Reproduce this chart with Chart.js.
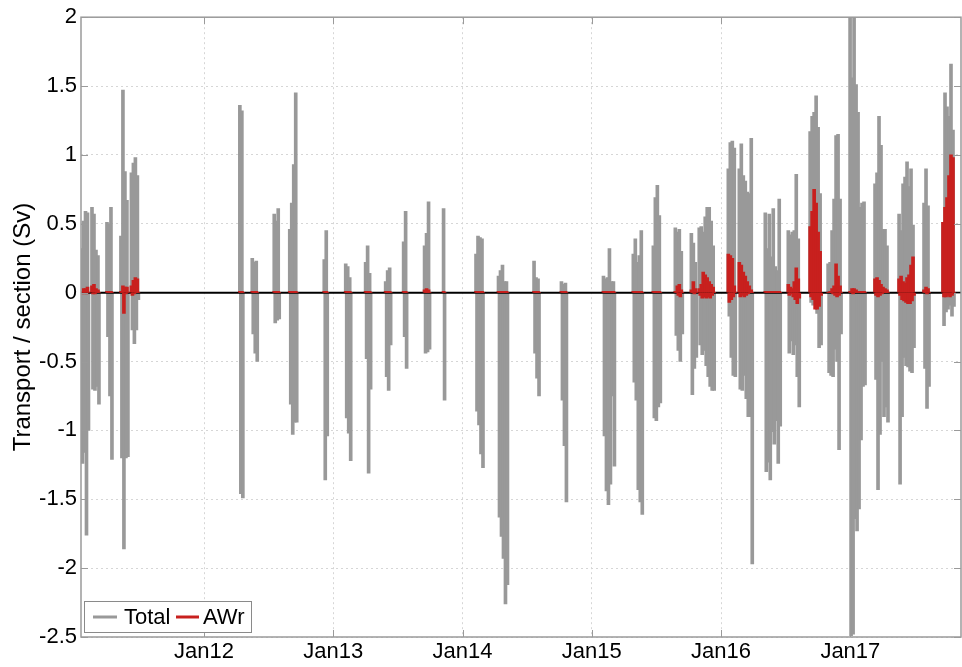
<!DOCTYPE html>
<html>
<head>
<meta charset="utf-8">
<script src="https://cdn.jsdelivr.net/npm/chart.js@4/dist/chart.umd.min.js"></script>
<style>
  html, body { margin: 0; padding: 0; background: #fff; }
  canvas { display: block; }
</style>
</head>
<body>
<canvas id="transportChart" width="962" height="667"></canvas>
<script>
// first section of each glider deployment, decimal years
var deployStarts = [2011.052, 2011.133, 2011.249, 2011.357, 2011.438,
  2012.277, 2012.373, 2012.543, 2012.663, 2012.930,
  2013.096, 2013.250, 2013.405, 2013.544, 2013.706, 2013.853,
  2014.104, 2014.278, 2014.553, 2014.765,
  2015.090, 2015.321, 2015.476, 2015.646, 2015.770, 2015.831,
  2016.056, 2016.141, 2016.342, 2016.520, 2016.689, 2016.828,
  2016.998, 2017.191, 2017.377, 2017.570, 2017.717];
var sectionStep = 0.0077; // ~2.8 days between sections

// transport per section, Sv (sections alternate direction)
var totalValues = [
  [0.32,-1.24, 0.52,-1.16, 0.59,-1.76, 0.58,-1.0],
  [0.62,-0.70, 0.57,-0.71, 0.31,-0.68, 0.27,-0.81],
  [0.51,-0.32, 0.50,-0.75, 0.62,-1.21],
  [0.41,-1.20, 1.47,-1.86, 0.88,-1.20, 0.67,-1.19],
  [0.87,-0.27, 0.94,-0.37, 0.98,-0.27, 0.85,-0.05],
  [1.36,-1.46, 1.32,-1.49],
  [0.25,-0.30, 0.22,-0.44, 0.23,-0.50],
  [0.57,-0.22, 0.52,-0.20, 0.61,-0.19],
  [0.46,-0.81, 0.65,-1.03, 0.93,-0.94, 1.45,-0.94],
  [0.24,-1.36, 0.45,-1.04],
  [0.21,-0.91, 0.19,-1.02, 0.11,-1.22],
  [0.22,-0.48, 0.34,-1.31, 0.14,-0.70],
  [0.08,-0.61, 0.16,-0.71, 0.18,-0.38],
  [0.37,-0.32, 0.59,-0.55],
  [0.34,-0.44, 0.43,-0.43, 0.66,-0.41],
  [0.61,-0.78],
  [0.28,-0.86, 0.41,-0.96, 0.40,-1.17, 0.39,-1.27],
  [0.12,-1.63, 0.16,-1.77, 0.20,-1.93, 0.08,-2.26, 0.08,-2.12],
  [0.23,-0.44, 0.11,-0.62, 0.10,-0.75],
  [0.08,-0.78, 0.06,-1.11, 0.07,-1.52],
  [0.12,-1.04, 0.10,-1.44, 0.11,-1.54, 0.32,-1.39, 0.08,-0.75, 0.08,-1.26],
  [0.28,-0.65, 0.39,-0.78, 0.22,-1.43, 0.27,-1.52, 0.45,-1.61],
  [0.34,-0.91, 0.69,-0.93, 0.78,-0.83, 0.56,-0.80],
  [0.47,-0.31, 0.44,-0.42, 0.46,-0.50, 0.30,-0.30],
  [0.43,-0.74, 0.36,-0.55, 0.22,-0.47],
  [0.47,-0.38, 0.48,-0.45, 0.44,-0.42, 0.55,-0.53, 0.62,-0.61, 0.62,-0.68, 0.52,-0.71, 0.34,-0.71],
  [0.90,-0.17, 1.09,-0.47, 1.10,-0.60, 1.05,-0.61],
  [0.90,-0.70, 1.08,-0.71, 0.85,-0.60, 0.81,-0.77, 0.73,-0.90, 0.72,-0.90, 1.12,-1.97],
  [0.58,-1.30, 0.32,-1.23, 0.57,-1.36, 0.26,-1.01, 0.61,-1.10, 0.19,-0.93, 0.16,-1.24, 0.68,-0.97],
  [0.45,-0.44, 0.42,-0.35, 0.44,-0.45, 0.45,-0.38, 0.86,-0.61, 0.39,-0.83],
  [1.17,-0.07, 1.28,-0.09, 1.31,-0.04, 1.43,-0.15, 1.20,-0.40, 0.72,-0.38],
  [0.21,-0.58, 0.22,-0.60, 0.45,-0.61, 0.68,-0.41, 1.14,-0.50, 1.15,-1.14, 0.68,-0.30],
  [2.2,-2.49, 1.56,-2.48, 2.2,-1.64, 1.51,-1.73, 1.31,-1.57, 0.62,-1.07, 0.65,-0.68, 0.66,-0.67],
  [0.79,-0.63, 0.87,-1.43, 1.28,-1.03, 1.07,-0.50, 0.46,-0.90, 0.46,-0.83, 0.34,-0.94],
  [0.57,-1.39, 0.45,-0.90, 0.79,-0.47, 0.84,-0.53, 0.95,-0.54, 0.77,-0.57, 0.90,-0.58, 0.49,-0.40],
  [0.65,-0.55, 0.90,-0.84, 0.63,-0.68],
  [0.51,-0.24, 1.45,-0.14, 1.35,-0.12, 1.28,-0.09, 1.66,-0.17, 1.18,-0.10]
];

// Atlantic Water (AWr) part of the same sections, Sv
var awrValues = [
  [0.01,-0.01, 0.03,0, 0.03,-0.01, 0.04,0],
  [0.05,-0.01, 0.06,-0.01, 0.03,0, 0.02,0],
  [0.01,0, 0.01,0, 0.01,0],
  [0.01,0, 0.05,-0.15, 0.04,-0.01, 0.04,0],
  [0.05,-0.02, 0.09,-0.01, 0.11,0, 0.10,0],
  [0.01,0, 0.01,0],
  [0.01,0, 0.01,0, 0.01,0],
  [0.01,0, 0.01,0, 0.01,0],
  [0.01,0, 0.01,0, 0.01,0, 0.01,0],
  [0.01,0, 0.01,0],
  [0.01,0, 0.01,0, 0.01,0],
  [0.01,0, 0.01,0, 0.01,0],
  [0.01,0, 0.01,0, 0.01,0],
  [0.01,0, 0.01,0],
  [0.02,0, 0.03,0, 0.02,0],
  [0.01,0],
  [0.01,0, 0.01,0, 0.01,0, 0.01,0],
  [0.01,0, 0.01,0, 0.01,0, 0.01,0, 0.01,0],
  [0.01,0, 0.01,0, 0.01,0],
  [0.01,0, 0.01,0, 0.01,0],
  [0.01,0, 0.01,0, 0.01,0, 0.01,0, 0.01,0, 0.01,0],
  [0.01,0, 0.01,0, 0.01,0, 0.01,0, 0.01,0],
  [0.01,0, 0.01,0, 0.01,0, 0.01,0],
  [0.01,0, 0.05,-0.02, 0.06,-0.03, 0.02,0],
  [0.02,0, 0.08,-0.01, 0.03,0],
  [0.03,-0.02, 0.06,-0.04, 0.15,-0.03, 0.13,-0.04, 0.11,-0.03, 0.08,-0.04, 0.06,-0.02, 0.04,0],
  [0.28,-0.07, 0.27,-0.05, 0.25,-0.03, 0.05,0],
  [0.22,-0.03, 0.20,-0.02, 0.15,-0.03, 0.12,-0.02, 0.08,-0.01, 0.05,0, 0.02,0],
  [0.01,0, 0.01,0, 0.01,0, 0.01,0, 0.01,0, 0.01,0, 0.01,0, 0.01,0],
  [0.06,-0.02, 0.04,-0.01, 0.03,-0.03, 0.08,-0.05, 0.18,-0.08, 0.10,-0.04],
  [0.48,-0.03, 0.59,-0.05, 0.75,-0.12, 0.65,-0.12, 0.44,-0.10, 0.30,-0.02],
  [0,0, 0.01,0, 0.03,-0.01, 0.05,-0.02, 0.21,-0.03, 0.12,-0.02, 0.05,0],
  [0.01,0, 0.03,-0.01, 0.03,0, 0.02,0, 0.01,0, 0.01,0, 0.01,0, 0.01,0],
  [0.10,-0.02, 0.11,-0.03, 0.09,-0.02, 0.06,-0.01, 0.04,0, 0.03,0, 0.02,0],
  [0.10,-0.02, 0.12,-0.05, 0.08,-0.06, 0.07,-0.07, 0.11,-0.08, 0.13,-0.08, 0.20,-0.06, 0.26,-0.02],
  [0.02,0, 0.04,-0.01, 0.03,0],
  [0.51,-0.03, 0.62,-0.03, 0.69,-0.02, 0.85,-0.03, 1.0,-0.02, 0.98,0]
];

var yearTicks = [2012, 2013, 2014, 2015, 2016, 2017];
var seriesNames = ['Total', 'AWr'];
var seriesColors = ['#999999', '#c8201e'];

var fontFamily = "'Liberation Sans', Arial, Helvetica, sans-serif";

var totalPoints = [];
var awrPoints = [];
deployStarts.forEach(function(start, i) {
  totalValues[i].forEach(function(v, j) {
    totalPoints.push({x: start + j * sectionStep, y: v});
    awrPoints.push({x: start + j * sectionStep, y: awrValues[i][j]});
  });
});

// zero line between the two series, axes box, inward ticks, legend
var matlabAxes = {
  id: 'matlabAxes',
  afterDatasetDraw: function(chart, args) {
    if (args.index !== 0) return;
    var a = chart.chartArea;
    var y0 = chart.scales.y.getPixelForValue(0);
    var ctx = chart.ctx;
    ctx.save();
    ctx.strokeStyle = '#000';
    ctx.lineWidth = 2;
    ctx.beginPath();
    ctx.moveTo(a.left, y0);
    ctx.lineTo(a.right, y0);
    ctx.stroke();
    ctx.restore();
  },
  afterDraw: function(chart) {
    var ctx = chart.ctx;
    var a = chart.chartArea;
    var xs = chart.scales.x, ys = chart.scales.y;
    ctx.save();
    ctx.strokeStyle = '#9a9a9a';
    ctx.lineWidth = 1.5;
    ctx.strokeRect(a.left, a.top, a.right - a.left, a.bottom - a.top);
    ctx.lineWidth = 1;
    ctx.beginPath();
    xs.ticks.forEach(function(t) {
      var px = Math.round(xs.getPixelForValue(t.value)) + 0.5;
      ctx.moveTo(px, a.top); ctx.lineTo(px, a.top + 7);
      ctx.moveTo(px, a.bottom); ctx.lineTo(px, a.bottom - 7);
    });
    ys.ticks.forEach(function(t) {
      var py = Math.round(ys.getPixelForValue(t.value)) + 0.5;
      ctx.moveTo(a.left, py); ctx.lineTo(a.left + 7, py);
      ctx.moveTo(a.right, py); ctx.lineTo(a.right - 7, py);
    });
    ctx.stroke();

    // legend box
    var lx = 84.5, ly = 601.5, lw = 167, lh = 31;
    ctx.fillStyle = '#fff';
    ctx.fillRect(lx, ly, lw, lh);
    ctx.strokeStyle = '#8a8a8a';
    ctx.strokeRect(lx, ly, lw, lh);
    var my = ly + lh / 2;
    ctx.font = '22px ' + fontFamily;
    ctx.textBaseline = 'middle';
    ctx.fillStyle = '#000';
    ctx.lineWidth = 3;
    ctx.strokeStyle = seriesColors[0];
    ctx.beginPath(); ctx.moveTo(93, my); ctx.lineTo(117, my); ctx.stroke();
    ctx.fillText(seriesNames[0], 124, my + 1);
    ctx.strokeStyle = seriesColors[1];
    ctx.beginPath(); ctx.moveTo(176, my); ctx.lineTo(199, my); ctx.stroke();
    ctx.fillText(seriesNames[1], 203, my + 1);
    ctx.restore();
  }
};

var ctx = document.getElementById('transportChart');
var transportChart = new Chart(ctx, {
  type: 'bar',
  data: {
    datasets: [
      {
        label: seriesNames[0],
        data: totalPoints,
        backgroundColor: seriesColors[0],
        barThickness: 3,
        grouped: false,
        order: 2
      },
      {
        label: seriesNames[1],
        data: awrPoints,
        backgroundColor: seriesColors[1],
        barThickness: 3,
        grouped: false,
        order: 1
      }
    ]
  },
  options: {
    responsive: false,
    animation: false,
    devicePixelRatio: 1,
    layout: { padding: { top: 14, right: 1, left: 0, bottom: 0 } },
    plugins: {
      legend: { display: false },
      tooltip: { enabled: false }
    },
    scales: {
      x: {
        type: 'linear',
        min: 2011.048,
        max: 2017.856,
        offset: false,
        afterBuildTicks: function(scale) {
          scale.ticks = yearTicks.map(function(v) { return {value: v}; });
        },
        afterFit: function(scale) { scale.height = 30; },
        grid: { color: '#d6d6d6', lineWidth: 1, drawTicks: false, offset: false },
        border: { display: false, dash: [2, 3] },
        ticks: {
          padding: 2,
          color: '#000',
          autoSkip: false,
          maxRotation: 0,
          font: { size: 22, family: fontFamily },
          callback: function(v) { return 'Jan' + String(v).slice(2); }
        }
      },
      y: {
        min: -2.5,
        max: 2,
        afterFit: function(scale) { scale.width = 81; },
        grid: { color: '#d6d6d6', lineWidth: 1, drawTicks: false },
        border: { display: false, dash: [2, 3] },
        ticks: {
          stepSize: 0.5,
          padding: 4,
          color: '#000',
          font: { size: 22, family: fontFamily },
          callback: function(v) { return String(v); }
        },
        title: {
          display: true,
          text: 'Transport / section (Sv)',
          color: '#000',
          padding: { top: 9, bottom: 0 },
          font: { size: 24, family: fontFamily }
        }
      }
    }
  },
  plugins: [matlabAxes]
});
</script>
</body>
</html>
